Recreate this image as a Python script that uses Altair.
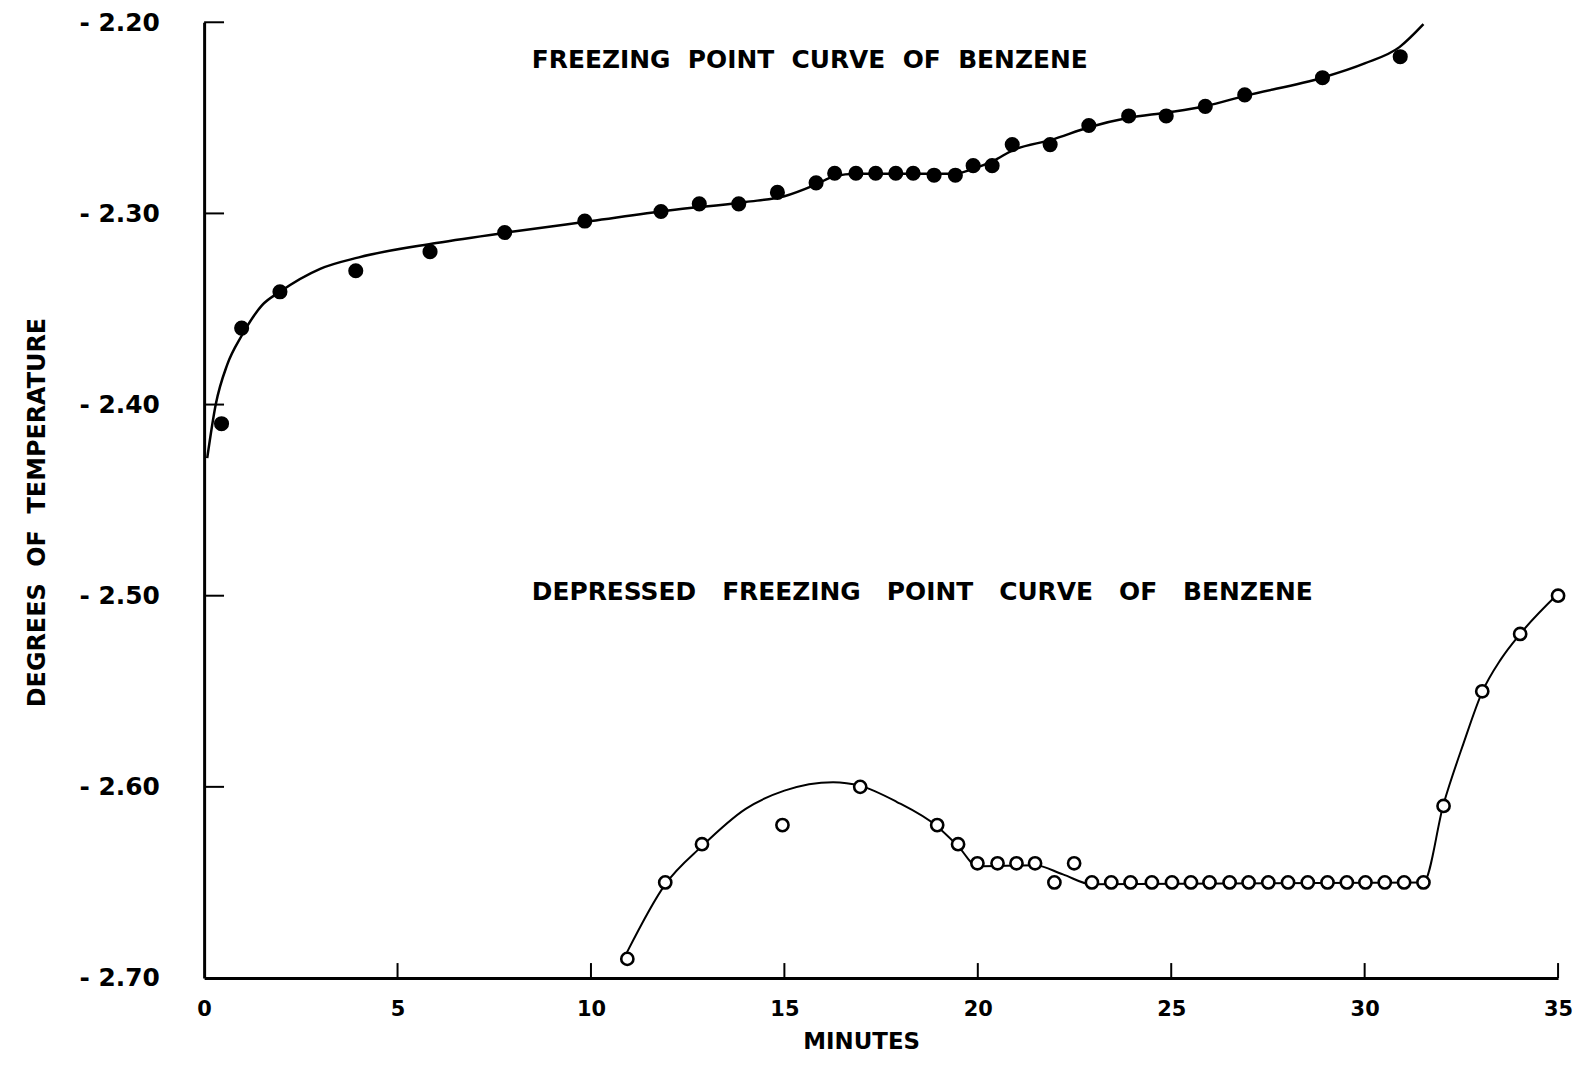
import altair as alt
import pandas as pd

# ---- Freezing point curve of benzene (filled dots) ----
fp_minutes = [0.45, 0.97, 1.96, 3.92, 5.84, 7.77, 9.84, 11.81, 12.80, 13.82,
              14.82, 15.82, 16.30, 16.85, 17.36, 17.88, 18.33, 18.87, 19.42, 19.88,
              20.37, 20.89, 21.87, 22.87, 23.90, 24.87, 25.88, 26.90, 28.91, 30.92]
fp_temps = [-2.410, -2.360, -2.341, -2.330, -2.320, -2.310, -2.304, -2.299, -2.295, -2.295,
            -2.289, -2.284, -2.279, -2.279, -2.279, -2.279, -2.279, -2.280, -2.280, -2.275,
            -2.275, -2.264, -2.264, -2.254, -2.249, -2.249, -2.244, -2.238, -2.229, -2.218]

# hand-drawn smooth curve through the filled dots
fp_curve_minutes = [0.08, 0.30, 0.60, 0.97, 1.50, 1.96, 3.0, 4.0, 6.0, 8.0,
                    10.0, 12.0, 14.0, 15.0, 15.8, 16.3, 16.85, 19.4, 19.9, 20.4,
                    20.9, 21.9, 22.9, 23.9, 24.9, 25.9, 26.9, 28.9, 30.0, 30.9, 31.52]
fp_curve_temps = [-2.428, -2.400, -2.379, -2.364, -2.348, -2.341, -2.329, -2.323, -2.3155, -2.3095,
                  -2.304, -2.2985, -2.294, -2.291, -2.285, -2.2805, -2.2792, -2.2792, -2.2765, -2.2725,
                  -2.267, -2.2615, -2.2548, -2.250, -2.2472, -2.2438, -2.2385, -2.229, -2.2215, -2.213, -2.201]

# ---- Depressed freezing point curve of benzene (open circles) ----
dfp_minutes = [10.94, 11.92, 12.87, 14.95, 16.96, 18.95, 19.49, 19.99, 20.51, 21.00,
               21.48, 21.98, 22.49, 22.95, 23.45, 23.95, 24.50, 25.02, 25.51, 25.99,
               26.51, 27.00, 27.51, 28.02, 28.53, 29.04, 29.54, 30.02, 30.52, 31.02,
               31.52, 32.04, 33.04, 34.02, 35.00]
dfp_temps = [-2.69, -2.65, -2.63, -2.62, -2.60, -2.62, -2.63, -2.64, -2.64, -2.64,
             -2.64, -2.65, -2.64, -2.65, -2.65, -2.65, -2.65, -2.65, -2.65, -2.65,
             -2.65, -2.65, -2.65, -2.65, -2.65, -2.65, -2.65, -2.65, -2.65, -2.65,
             -2.65, -2.61, -2.55, -2.52, -2.50]

dfp_curve_minutes = [10.92, 11.92, 12.87, 14.0, 15.0, 16.26, 16.96, 17.9, 18.95, 19.49,
                     19.99, 21.48, 22.2, 22.95, 31.52, 32.04, 32.56, 33.04, 33.52, 34.02, 35.0]
dfp_curve_temps = [-2.687, -2.651, -2.631, -2.6115, -2.602, -2.5976, -2.5995, -2.6078, -2.6207, -2.631,
                   -2.6415, -2.641, -2.6458, -2.651, -2.650, -2.609, -2.577, -2.5503, -2.5333, -2.520, -2.499]

# ---- axes ----
x_tick_values = [0, 5, 10, 15, 20, 25, 30, 35]
y_tick_values = [-2.2, -2.3, -2.4, -2.5, -2.6, -2.7]
x_inner_ticks = [5, 10, 15, 20, 25, 30, 35]
y_inner_ticks = [-2.2, -2.3, -2.4, -2.5, -2.6]

# ---- annotations ----
NB = "\u00a0"
note_texts = [
    ("FREEZING POINT CURVE OF BENZENE").replace(" ", NB * 2),
    ("DEPRESSED FREEZING POINT CURVE OF BENZENE").replace(" ", NB * 3),
]
note_minutes = [8.47, 8.47]
note_temps = [-2.2195, -2.4979]

W, H = 1360, 960
FONT = "DejaVu Sans"

fp_df = pd.DataFrame({"minutes": fp_minutes, "temp": fp_temps})
fp_curve_df = pd.DataFrame({"minutes": fp_curve_minutes, "temp": fp_curve_temps})
dfp_df = pd.DataFrame({"minutes": dfp_minutes, "temp": dfp_temps})
dfp_curve_df = pd.DataFrame({"minutes": dfp_curve_minutes, "temp": dfp_curve_temps})
xt_df = pd.DataFrame({"minutes": x_inner_ticks})
yt_df = pd.DataFrame({"temp": y_inner_ticks})
note_df = pd.DataFrame({"minutes": note_minutes, "temp": note_temps, "text": note_texts})

xs = alt.Scale(domain=[0, 35], nice=False, zero=False)
ys = alt.Scale(domain=[-2.7, -2.2], nice=False, zero=False)

x_axis = alt.Axis(
    values=x_tick_values, title="MINUTES", format="d",
    ticks=False, tickSize=0, grid=False,
    domainColor="black", domainWidth=3,
    labelFont=FONT, labelFontSize=21, labelFontWeight="bold", labelColor="black",
    labelPadding=21, labelFlush=False, labelOverlap=False,
    titleFont=FONT, titleFontSize=23, titleFontWeight="bold", titleColor="black",
    titlePadding=11, titleX=660,
)
y_axis = alt.Axis(
    values=y_tick_values, title="DEGREES" + NB * 2 + "OF" + NB * 2 + "TEMPERATURE",
    labelExpr="'- ' + format(-datum.value, '.2f')",
    ticks=False, tickSize=0, grid=False,
    domainColor="black", domainWidth=3,
    labelFont=FONT, labelFontSize=25, labelFontWeight="bold", labelColor="black",
    labelPadding=45, labelFlush=False, labelOverlap=False,
    titleFont=FONT, titleFontSize=24, titleFontWeight="bold", titleColor="black",
    titlePadding=30, titleY=492,
)

X = alt.X("minutes:Q", scale=xs, axis=x_axis)
Y = alt.Y("temp:Q", scale=ys, axis=y_axis)

fp_line = alt.Chart(fp_curve_df).mark_line(
    color="black", strokeWidth=2.5, interpolate="monotone"
).encode(x=X, y=Y)
dfp_line = alt.Chart(dfp_curve_df).mark_line(
    color="black", strokeWidth=2, interpolate="monotone"
).encode(x=X, y=Y)
fp_pts = alt.Chart(fp_df).mark_point(
    shape="circle", filled=True, color="black", size=230, opacity=1
).encode(x=X, y=Y)
dfp_pts = alt.Chart(dfp_df).mark_point(
    shape="circle", filled=True, fill="white", stroke="black", strokeWidth=2.6,
    size=150, opacity=1
).encode(x=X, y=Y)
y_ticks_in = alt.Chart(yt_df).mark_rule(color="black", strokeWidth=2).encode(
    y=Y, x=alt.value(0), x2=alt.value(20),
)
x_ticks_in = alt.Chart(xt_df).mark_rule(color="black", strokeWidth=2).encode(
    x=X, y=alt.value(H), y2=alt.value(H - 15),
)
notes = alt.Chart(note_df).mark_text(
    align="left", baseline="middle", font=FONT, fontSize=25, fontWeight="bold", color="black"
).encode(x=X, y=Y, text="text:N")

chart = alt.layer(
    fp_line, dfp_line, y_ticks_in, x_ticks_in, fp_pts, dfp_pts, notes
).properties(
    width=W, height=H,
    padding={"left": 17, "top": 0, "right": 0, "bottom": -3},
    background="white",
).configure_view(strokeWidth=0)

chart.save("out.html", embed_options={"renderer": "svg", "actions": False})
